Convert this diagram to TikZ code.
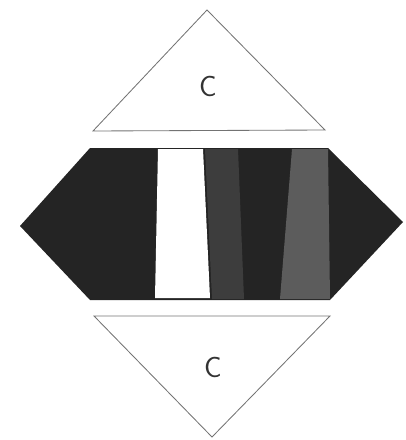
\documentclass[tikz,border=0pt]{standalone}
\usepackage{tikz}
\usetikzlibrary{positioning,calc}

\begin{document}
\begin{tikzpicture}[x=0.025cm, y=-0.025cm,
  tri/.style={draw=black!55, line width=0.6pt, line join=miter},
  lbl/.style={font=\sffamily\huge, text=black!80, inner sep=0pt},
  band/.style={fill=black!86, draw=none}]
  \useasboundingbox (0,0) rectangle (406,440);
  % upper triangle
  \draw[tri] (207,10) -- (325,130) -- (93,131) -- cycle;
  \node[lbl] (ctop) at (208,86) {C};
  % lower triangle
  \draw[tri] (94,316) -- (330,316) -- (212,437) -- cycle;
  \node[lbl] (cbot) at (213,367) {C};
  % middle hexagon
  \fill[band] (90,148) -- (328,148) -- (403,222) -- (330,300) -- (90,300) -- (20,226) -- cycle;
  % lighter strips
  \fill[black!76] (205,149) -- (238,149) -- (244,299) -- (212,299) -- cycle;
  \fill[black!64] (292,149) -- (328,149) -- (330,299) -- (280,299) -- cycle;
  % white strip
  \fill[white] (158,149) -- (203,149) -- (210,298) -- (155,298) -- cycle;
\end{tikzpicture}
\end{document}
